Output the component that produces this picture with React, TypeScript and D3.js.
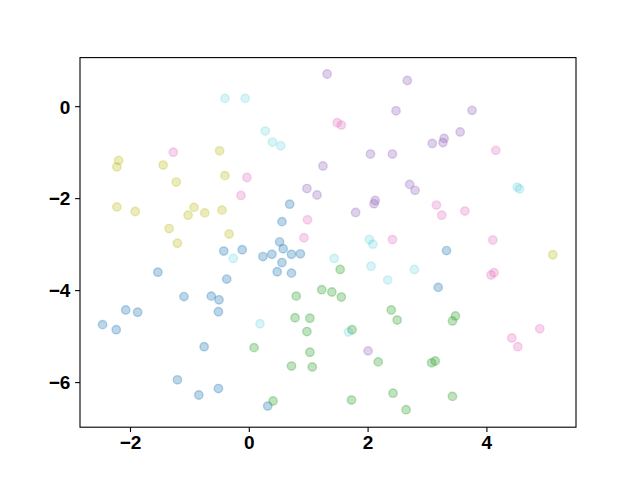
import React from "react";
import * as d3 from "d3";

const blueX = [0.68, 0.55, 0.51, -0.43, -0.12, 0.23, 0.38, 0.57, 0.71, 0.86, 0.55, 0.47, 0.71, -1.54, -0.38, -1.10, -0.64, -0.51, -2.08, -1.88, -0.52, -2.47, -2.24, -0.76, -1.21, -0.85, -0.52, 0.31, 3.32, 3.18];
const blueY = [-2.12, -2.50, -2.94, -3.14, -3.11, -3.26, -3.21, -3.09, -3.21, -3.20, -3.39, -3.59, -3.62, -3.60, -3.75, -4.13, -4.12, -4.20, -4.42, -4.47, -4.46, -4.74, -4.85, -5.22, -5.94, -6.27, -6.13, -6.51, -3.13, -3.93];

const greenX = [1.22, 1.39, 0.79, 0.77, 1.02, 0.97, 0.08, 1.02, 0.71, 1.06, 0.40, 1.53, 1.55, 2.39, 2.49, 3.47, 3.42, 1.73, 2.17, 3.07, 3.13, 1.72, 2.42, 3.42, 2.64];
const greenY = [-3.98, -4.03, -4.12, -4.59, -4.60, -4.89, -5.24, -5.34, -5.64, -5.66, -6.40, -3.54, -4.14, -4.42, -4.64, -4.55, -4.66, -4.85, -5.55, -5.57, -5.53, -6.38, -6.23, -6.30, -6.59];

const purpleX = [1.31, 1.24, 0.97, 1.14, 2.66, 2.47, 3.75, 3.55, 3.28, 3.26, 3.08, 2.04, 2.41, 2.70, 2.79, 2.12, 2.10, 1.79, 2.00];
const purpleY = [0.71, -1.29, -1.78, -1.92, 0.57, -0.09, -0.08, -0.55, -0.69, -0.78, -0.80, -1.03, -1.03, -1.69, -1.82, -2.04, -2.11, -2.30, -5.31];

const pinkX = [-1.28, -0.04, -0.14, 0.98, 0.92, 1.48, 1.55, 4.15, 3.15, 3.24, 3.63, 2.41, 4.10, 4.07, 4.12, 4.89, 4.42, 4.52];
const pinkY = [-0.99, -1.54, -1.93, -2.46, -2.85, -0.35, -0.40, -0.95, -2.14, -2.36, -2.27, -2.89, -2.90, -3.66, -3.61, -4.83, -5.03, -5.22];

const oliveX = [-2.20, -2.23, -1.45, -0.50, -0.41, -1.23, -2.23, -1.92, -0.93, -1.03, -0.75, -0.46, -1.35, -0.34, -1.21, 5.11];
const oliveY = [-1.17, -1.31, -1.27, -0.96, -1.50, -1.64, -2.18, -2.28, -2.19, -2.36, -2.31, -2.25, -2.65, -2.77, -2.97, -3.22];

const cyanX = [-0.41, -0.07, 0.27, 0.39, 0.53, 4.51, 4.55, 2.02, 2.08, -0.27, 1.43, 2.05, 2.78, 2.33, 1.67, 0.18];
const cyanY = [0.18, 0.18, -0.53, -0.77, -0.85, -1.75, -1.79, -2.89, -2.99, -3.30, -3.30, -3.47, -3.54, -3.77, -4.90, -4.72];

const xTicks = [-2, 0, 2, 4];
const yTicks = [0, -2, -4, -6];

const series = [
  { xs: blueX, ys: blueY, color: "#1f77b4", alpha: 0.3 },
  { xs: greenX, ys: greenY, color: "#2ca02c", alpha: 0.3 },
  { xs: purpleX, ys: purpleY, color: "#9467bd", alpha: 0.3 },
  { xs: pinkX, ys: pinkY, color: "#e377c2", alpha: 0.3 },
  { xs: oliveX, ys: oliveY, color: "#bcbd22", alpha: 0.3 },
  { xs: cyanX, ys: cyanY, color: "#17becf", alpha: 0.17 },
];

export default function App() {
  const W = 640, H = 480;
  const left = 80, right = 576, top = 57.6, bottom = 427.2;
  const x = d3.scaleLinear().domain([-2.85, 5.5]).range([left, right]);
  const y = d3.scaleLinear().domain([-6.97, 1.067]).range([bottom, top]);
  const font = "'Liberation Sans', Arial, sans-serif";
  const fs = 19;
  return (
    <svg width={W} height={H} style={{ position: "absolute", left: 0, top: 0, background: "#fff" }}>
      <rect x={0} y={0} width={W} height={H} fill="#fff" />
      {series.map((s, si) =>
        s.xs.map((v, i) => (
          <circle
            key={si + "-" + i}
            cx={x(v)}
            cy={y(s.ys[i])}
            r={4.2}
            fill={s.color}
            fillOpacity={s.alpha}
            stroke={s.color}
            strokeOpacity={s.alpha}
            strokeWidth={1.4}
          />
        ))
      )}
      <rect x={left} y={top} width={right - left} height={bottom - top} fill="none" stroke="#000" strokeWidth={1.1} />
      {xTicks.map((t) => (
        <g key={"x" + t}>
          <line x1={x(t)} x2={x(t)} y1={bottom} y2={bottom + 4.9} stroke="#000" strokeWidth={1.1} />
          <text x={x(t)} y={bottom + 8.5} dy="0.72em" textAnchor="middle" fontFamily={font} fontWeight="bold" fontSize={fs}>
            {t < 0 ? "\u2212" + Math.abs(t) : String(t)}
          </text>
        </g>
      ))}
      {yTicks.map((t) => (
        <g key={"y" + t}>
          <line x1={left} x2={left - 4.9} y1={y(t)} y2={y(t)} stroke="#000" strokeWidth={1.1} />
          <text x={left - 9.7} y={y(t)} dy="0.36em" textAnchor="end" fontFamily={font} fontWeight="bold" fontSize={fs}>
            {t < 0 ? "\u2212" + Math.abs(t) : String(t)}
          </text>
        </g>
      ))}
    </svg>
  );
}
